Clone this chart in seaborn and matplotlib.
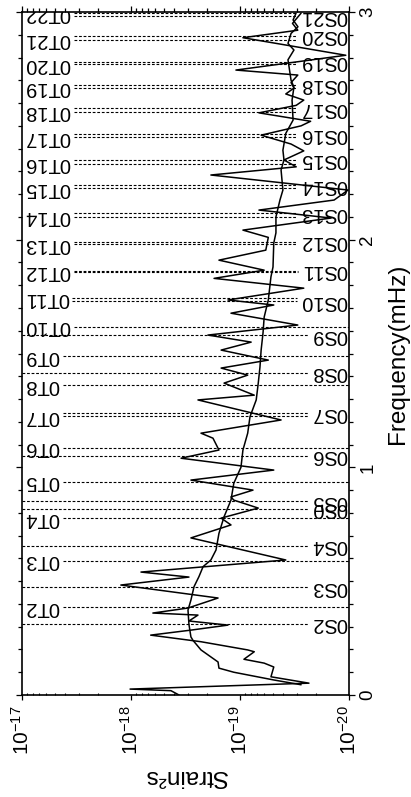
import numpy as np
import pandas as pd
import matplotlib
matplotlib.use("Agg")
import matplotlib.pyplot as plt
import matplotlib.ticker as mticker
import matplotlib.transforms as mtransforms
import seaborn as sns

# Strain spectrum (frequency in mHz, strain^2 s), listed from high to low frequency
spec_freq = [2.995, 2.95, 2.92, 2.887, 2.81, 2.745, 2.723, 2.69, 2.666, 2.64,
             2.613, 2.59, 2.557, 2.52, 2.50, 2.459, 2.42, 2.39, 2.35, 2.32,
             2.284, 2.218, 2.174, 2.13, 2.095, 2.042, 2.01, 1.954, 1.91, 1.866,
             1.83, 1.787, 1.735, 1.713, 1.677, 1.625, 1.581, 1.55, 1.515, 1.471,
             1.436, 1.405, 1.37, 1.317, 1.296, 1.208, 1.15, 1.128, 1.076, 1.04,
             0.988, 0.944, 0.90, 0.87, 0.856, 0.821, 0.777, 0.747, 0.69, 0.593,
             0.54, 0.518, 0.483, 0.426, 0.382, 0.36, 0.351, 0.325, 0.307, 0.285,
             0.263, 0.234, 0.198, 0.19, 0.157, 0.14, 0.123, 0.08, 0.052, 0.026,
             0.019, 0.0]
spec_strain = [2.75e-20, 3.3e-20, 2.95e-20, 9.4e-20, 1.07e-20, 1.09e-19, 2.95e-20, 3.4e-20, 3.2e-20, 3.8e-20,
               2.6e-20, 3.05e-20, 6.7e-20, 2.25e-20, 2.75e-20, 6.4e-20, 3.4e-20, 2.6e-20, 3.95e-20, 3.05e-20,
               1.85e-19, 1.02e-20, 1.37e-20, 6.7e-20, 1.46e-20, 9.4e-20, 5.5e-20, 5.8e-20, 1.56e-19, 6.0e-20,
               1.73e-19, 2.6e-20, 1.29e-19, 4.9e-20, 1.21e-19, 2.95e-20, 1.97e-19, 7.9e-20, 1.49e-19, 5.5e-20,
               1.49e-19, 8.5e-20, 1.40e-19, 7.4e-20, 2.43e-19, 4.2e-20, 2.28e-19, 1.77e-19, 1.56e-19, 3.47e-19,
               4.9e-20, 2.82e-19, 7.6e-20, 1.21e-19, 1.14e-19, 6.8e-20, 1.49e-19, 1.21e-19, 2.82e-19, 3.8e-20,
               8.1e-19, 2.94e-19, 1.24e-18, 1.59e-19, 3.0e-19, 6.3e-19, 2.43e-19, 2.94e-19, 1.29e-19, 2.82e-19,
               6.6e-19, 2.28e-19, 8.5e-20, 7.4e-20, 9.2e-20, 6.0e-20, 4.9e-20, 5.2e-20, 2.33e-20, 1.02e-18,
               4.3e-19, 3.63e-19]

# Smooth background level
bg_freq = [2.995, 2.965, 2.935, 2.906, 2.862, 2.833, 2.79, 2.76, 2.70, 2.67,
           2.613, 2.525, 2.467, 2.393, 2.35, 2.306, 2.218, 2.174, 2.10, 2.03,
           1.985, 1.88, 1.837, 1.735, 1.66, 1.59, 1.515, 1.44, 1.37, 1.296,
           1.222, 1.15, 1.076, 1.0, 0.93, 0.856, 0.783, 0.71, 0.637, 0.593,
           0.564, 0.52, 0.476, 0.417, 0.373, 0.31, 0.255, 0.24, 0.198, 0.145,
           0.118, 0.10, 0.066, 0.045]
bg_strain = [3.06e-20, 3.26e-20, 2.94e-20, 3.4e-20, 3.63e-20, 3.2e-20, 3.63e-20, 3.55e-20, 3.4e-20, 3.2e-20,
             3.33e-20, 3.26e-20, 3.8e-20, 4.04e-20, 3.95e-20, 4.2e-20, 4.04e-20, 4.3e-20, 4.68e-20, 4.68e-20,
             4.9e-20, 4.98e-20, 5.2e-20, 5.5e-20, 6.0e-20, 6.15e-20, 6.4e-20, 6.56e-20, 6.8e-20, 7.1e-20,
             8.1e-20, 8.5e-20, 9.4e-20, 9.8e-20, 1.14e-19, 1.21e-19, 1.40e-19, 1.56e-19, 1.66e-19, 1.85e-19,
             2.18e-19, 2.38e-19, 2.64e-19, 2.82e-19, 3.0e-19, 2.94e-19, 2.82e-19, 2.70e-19, 2.28e-19, 1.59e-19,
             1.56e-19, 1.14e-19, 4.9e-20, 2.75e-20]

# Fundamental toroidal modes
t_names = ["0T2", "0T3", "0T4", "0T5", "0T6", "0T7", "0T8", "0T9", "0T10", "0T11", "0T12",
           "0T13", "0T14", "0T15", "0T16", "0T17", "0T18", "0T19", "0T20", "0T21", "0T22"]
t_freq = [0.385, 0.590, 0.776, 0.937, 1.086, 1.225, 1.361, 1.489, 1.618, 1.742, 1.859,
          1.979, 2.101, 2.225, 2.334, 2.449, 2.562, 2.668, 2.771, 2.879, 2.994]

# Fundamental spheroidal modes
s_names = ["0S2", "0S3", "0S4", "0S0", "0S5", "0S6", "0S7", "0S8", "0S9", "0S10", "0S11",
           "0S12", "0S13", "0S14", "0S15", "0S16", "0S17", "0S18", "0S19", "0S20", "0S21"]
s_freq = [0.312, 0.474, 0.655, 0.818, 0.852, 1.050, 1.237, 1.416, 1.581, 1.730, 1.864,
          1.991, 2.115, 2.240, 2.352, 2.464, 2.577, 2.681, 2.781, 2.895, 2.982]

freq_ticks = [0, 1, 2, 3]
strain_ticks = [1e-17, 1e-18, 1e-19, 1e-20]

sns.set_theme(style="ticks")
plt.rcParams["font.family"] = ["Liberation Sans", "DejaVu Sans"]
plt.rcParams["mathtext.fontset"] = "custom"
plt.rcParams["mathtext.rm"] = "Liberation Sans"
plt.rcParams["mathtext.it"] = "Liberation Sans:italic"
plt.rcParams["mathtext.bf"] = "Liberation Sans:bold"
for key in ["text.color", "axes.labelcolor", "xtick.color", "ytick.color", "axes.edgecolor"]:
    plt.rcParams[key] = "black"

W, H = 411, 797
fig = plt.figure(figsize=(W / 100, H / 100), dpi=100)
fig.patch.set_facecolor("white")
ax_l, ax_r, ax_b, ax_t = 22, 349, 695, 12
ax = fig.add_axes([ax_l / W, 1 - ax_b / H, (ax_r - ax_l) / W, (ax_b - ax_t) / H])
ax.set_facecolor("white")
ax.set_xscale("log")
ax.set_xlim(strain_ticks[0], strain_ticks[-1])
ax.set_ylim(freq_ticks[0], freq_ticks[-1])

# Companion axis carrying the outward ticks along the top edge
top = ax.twiny()
top.set_xscale("log")
top.set_xlim(ax.get_xlim())
top.xaxis.set_major_locator(mticker.FixedLocator(strain_ticks))
top.xaxis.set_minor_locator(mticker.LogLocator(base=10, subs=np.arange(2, 10) * 1.0, numticks=30))
top.xaxis.set_minor_formatter(mticker.NullFormatter())
top.tick_params(axis="x", which="both", direction="out", top=True, bottom=False,
                labeltop=False, labelbottom=False, width=0.9)
top.tick_params(axis="x", which="major", length=4.5)
top.tick_params(axis="x", which="minor", length=3)
for sp in top.spines.values():
    sp.set_visible(False)

spec = pd.DataFrame({"freq": spec_freq, "strain": spec_strain})
bg = pd.DataFrame({"freq": bg_freq, "strain": bg_strain})
sns.lineplot(data=spec, x="strain", y="freq", sort=False, estimator=None,
             color="black", linewidth=1.1, ax=ax, zorder=4)
sns.lineplot(data=bg, x="strain", y="freq", sort=False, estimator=None,
             color="black", linewidth=1.1, ax=ax, zorder=4)

# Axis ticks
ax.xaxis.set_major_locator(mticker.FixedLocator(strain_ticks))
ax.xaxis.set_minor_locator(mticker.LogLocator(base=10, subs=np.arange(2, 10) * 1.0, numticks=30))
ax.xaxis.set_major_formatter(mticker.LogFormatterSciNotation())
ax.xaxis.set_minor_formatter(mticker.NullFormatter())
ax.tick_params(axis="x", which="major", direction="out", length=3.6, width=0.9,
               labelsize=15, pad=4, labelrotation=90, top=False)
ax.tick_params(axis="x", which="minor", direction="in", length=1.8, width=0.8, top=False)

ax.yaxis.set_major_locator(mticker.FixedLocator(freq_ticks))
ax.yaxis.set_major_formatter(mticker.FormatStrFormatter("%d"))
ax.yaxis.set_minor_locator(mticker.MultipleLocator(0.1))
ax.tick_params(axis="y", which="both", direction="out", left=True, right=True,
               labelleft=False, labelright=True, width=0.9)
ax.tick_params(axis="y", which="major", length=4.5, labelsize=13.5, pad=3, labelrotation=90)
ax.tick_params(axis="y", which="minor", length=2.8)
for lab in ax.get_yticklabels():
    lab.set_verticalalignment("center")

for sp in ax.spines.values():
    sp.set_linewidth(1.2)
    sp.set_color("black")

# Axis titles
ax.set_xlabel("Strain²s", fontsize=17.5, rotation=180)
ax.xaxis.set_label_coords(0.5, (ax_b - 776) / (ax_b - ax_t))
ax.xaxis.label.set_verticalalignment("center")
ax.xaxis.label.set_horizontalalignment("center")
ax.yaxis.set_label_position("right")
ax.set_ylabel("Frequency(mHz)", fontsize=17.5, rotation=90)
ax.yaxis.set_label_coords((398 - ax_l) / (ax_r - ax_l), 0.5)
ax.yaxis.label.set_verticalalignment("center")
ax.yaxis.label.set_horizontalalignment("center")

# Mode labels: toroidal along the left edge, spheroidal along the right edge
blend = mtransforms.blended_transform_factory(ax.transAxes, ax.transData)
label_kw = dict(fontsize=14.5, rotation=180, va="center", clip_on=True, zorder=3,
                transform=blend)
t_texts = [ax.text(0.008, f, n, ha="left", **label_kw) for n, f in zip(t_names, t_freq)]
s_texts = [ax.text(0.994, f, n, ha="right", **label_kw) for n, f in zip(s_names, s_freq)]

fig.canvas.draw()
renderer = fig.canvas.get_renderer()
to_axes = ax.transAxes.inverted()


def x_extent(txt):
    bb = txt.get_window_extent(renderer)
    (x0, _), (x1, _) = to_axes.transform([(bb.x0, 0), (bb.x1, 0)])
    return x0, x1


def y_disp(f):
    return ax.transData.transform((1e-18, f))[1]


half_h = 0.37 * 14.5 * 100 / 72
gap = 3.5 / (ax_r - ax_l)
dot_kw = dict(color="black", linewidth=0.8, linestyle=(0, (2.5, 1.6)), zorder=2,
              transform=blend, clip_on=True)

# Dotted mode lines run from their own label toward the opposite edge,
# stopping short of any label sitting on the same row
for txt, f in zip(t_texts, t_freq):
    start = x_extent(txt)[1] + gap
    end = 1.0
    for other, g in zip(s_texts, s_freq):
        if abs(y_disp(f) - y_disp(g)) < half_h:
            end = min(end, x_extent(other)[0] - gap)
    ax.plot([start, end], [f, f], **dot_kw)

for txt, f in zip(s_texts, s_freq):
    end = x_extent(txt)[0] - gap
    start = 0.0
    for other, g in zip(t_texts, t_freq):
        if abs(y_disp(f) - y_disp(g)) < half_h:
            start = max(start, x_extent(other)[1] + gap)
    ax.plot([start, end], [f, f], **dot_kw)

fig.savefig("out.png", dpi=100, facecolor="white")
